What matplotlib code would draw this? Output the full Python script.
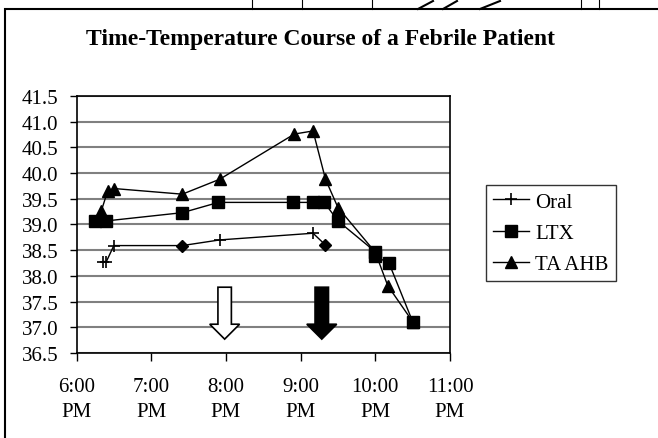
import numpy as np
import matplotlib
matplotlib.use("Agg")
import matplotlib.pyplot as plt
from matplotlib.patches import Polygon, Rectangle
from matplotlib.lines import Line2D

plt.rcParams['font.family'] = ['Liberation Serif', 'DejaVu Serif']

def hours(times):
    # "HH:MM" -> decimal hours
    return np.array([int(t[:2]) + int(t[3:]) / 60.0 for t in times])

# data
oral_times = ["18:21", "18:24", "18:30", "19:25", "19:55", "21:10", "21:20"]
oral_temps = [38.28, 38.28, 38.59, 38.59, 38.70, 38.83, 38.60]
oral_diamonds = [3, 6]

ltx_times = ["18:15", "18:24", "19:25", "19:54", "20:54", "21:10", "21:19",
             "21:30", "22:00", "22:00", "22:11", "22:30"]
ltx_temps = [39.07, 39.07, 39.23, 39.43, 39.43, 39.43, 39.43,
             39.07, 38.47, 38.38, 38.25, 37.11]

ta_times = ["18:20", "18:25", "18:30", "19:25", "19:55", "20:55", "21:10",
            "21:20", "21:30", "22:00", "22:10", "22:30"]
ta_temps = [39.27, 39.65, 39.70, 39.59, 39.88, 40.76, 40.82,
            39.88, 39.33, 38.46, 37.81, 37.11]

arrow_times = ["19:59", "21:17"]
arrow_filled = [False, True]

xticks = [18, 19, 20, 21, 22, 23]
xlabels = ["6:00\nPM", "7:00\nPM", "8:00\nPM", "9:00\nPM", "10:00\nPM", "11:00\nPM"]
yticks = np.arange(36.5, 41.51, 0.5)

W, H = 658, 439
fig = plt.figure(figsize=(W / 100, H / 100), dpi=100)
ax = fig.add_axes([76.5 / W, 1 - 354 / H, (450 - 76.5) / W, (354 - 97) / H])

ox = hours(oral_times)
pm = [i for i in range(len(ox)) if i not in oral_diamonds]
ax.plot(ox, oral_temps, color='black', lw=1.0, marker='+', ms=9, mew=1.2,
        markevery=pm, label='Oral')
ax.plot(ox[oral_diamonds], np.array(oral_temps)[oral_diamonds], ls='none',
        marker='D', ms=6, color='black')
ax.plot(hours(ltx_times), ltx_temps, color='black', lw=1.0, marker='s', ms=8,
        label='LTX')
ax.plot(hours(ta_times), ta_temps, color='black', lw=1.0, marker='^', ms=9,
        label='TA AHB')

# dose arrows
for t, filled in zip(hours(arrow_times), arrow_filled):
    sw, hw = 0.09, 0.2
    top, base, tip = 37.78, 37.06, 36.77
    pts = [(t - sw, top), (t + sw, top), (t + sw, base), (t + hw, base),
           (t, tip), (t - hw, base), (t - sw, base)]
    ax.add_patch(Polygon(pts, closed=True, facecolor='black' if filled else 'white',
                         edgecolor='black', lw=1.2, zorder=4))

ax.set_xlim(18, 23)
ax.set_ylim(36.5, 41.5)
ax.set_xticks(xticks)
ax.set_xticklabels(xlabels, fontsize=15, linespacing=1.45)
ax.set_yticks(yticks)
ax.set_yticklabels(["%.1f" % v for v in yticks], fontsize=15)
ax.tick_params(axis='x', direction='out', length=6, width=1, pad=11)
ax.tick_params(axis='y', direction='out', length=5, width=1, pad=8)
ax.grid(axis='y', color='#808080', lw=1.5)
ax.set_axisbelow(True)
for s in ax.spines.values():
    s.set_color('black')
    s.set_linewidth(1.2)

fig.text(321 / W, 1 - 45 / H, "Time-Temperature Course of a Febrile Patient",
         ha='center', va='baseline', fontsize=17, fontweight='bold')

leg = fig.legend(loc='center left', bbox_to_anchor=(486 / W, 1 - 234 / H),
                 fontsize=15, frameon=True, fancybox=False, edgecolor='black',
                 handlelength=1.7, handletextpad=0.3, labelspacing=0.55,
                 borderpad=0.35, borderaxespad=0)
leg.get_frame().set_linewidth(1.0)

# outer chart border
fig.patches.append(Rectangle((5 / W, -0.1), 1.2, 1.1 - 10 / H, transform=fig.transFigure,
                             fill=False, edgecolor='black', lw=1.5))
# bits of the table cut off above
for x in [252, 302, 372, 581, 599]:
    fig.lines.append(Line2D([x / W, x / W], [1, 1 - 10 / H], transform=fig.transFigure,
                            color='black', lw=0.8))
for x0, x1 in [(418, 433), (443, 457), (480, 500)]:
    fig.lines.append(Line2D([x0 / W, x1 / W], [1 - 10 / H, 1 - 2 / H],
                            transform=fig.transFigure, color='black', lw=1.5))

fig.savefig("out.png", dpi=100)
